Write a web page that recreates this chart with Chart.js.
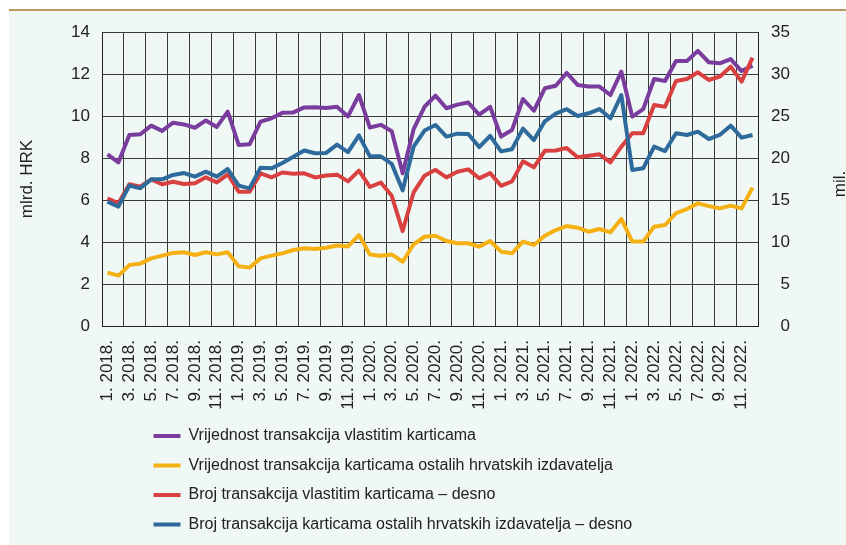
<!DOCTYPE html>
<html><head><meta charset="utf-8">
<script src="https://cdn.jsdelivr.net/npm/chart.js@4.4.0/dist/chart.umd.min.js"></script>
<style>
html,body{margin:0;padding:0;background:#fff;}
#bg{position:absolute;left:9px;top:9px;width:837px;height:534px;background:#EFF8F5;border-top:2px solid #B89A60;}
#wrap{position:absolute;left:0;top:0;width:846px;height:545px;}
</style></head><body>
<div id="bg"></div>
<div id="wrap"><canvas id="c"></canvas></div>
<script>
const categories = [
 '1. 2018.','2. 2018.','3. 2018.','4. 2018.','5. 2018.','6. 2018.','7. 2018.','8. 2018.','9. 2018.','10. 2018.','11. 2018.','12. 2018.',
 '1. 2019.','2. 2019.','3. 2019.','4. 2019.','5. 2019.','6. 2019.','7. 2019.','8. 2019.','9. 2019.','10. 2019.','11. 2019.','12. 2019.',
 '1. 2020.','2. 2020.','3. 2020.','4. 2020.','5. 2020.','6. 2020.','7. 2020.','8. 2020.','9. 2020.','10. 2020.','11. 2020.','12. 2020.',
 '1. 2021.','2. 2021.','3. 2021.','4. 2021.','5. 2021.','6. 2021.','7. 2021.','8. 2021.','9. 2021.','10. 2021.','11. 2021.','12. 2021.',
 '1. 2022.','2. 2022.','3. 2022.','4. 2022.','5. 2022.','6. 2022.','7. 2022.','8. 2022.','9. 2022.','10. 2022.','11. 2022.','12. 2022.'
];
// mlrd. HRK (left axis)
const vrijednostVlastitim = [
 8.17,7.79,9.10,9.13,9.54,9.29,9.68,9.60,9.44,9.79,9.48,10.21,
 8.62,8.65,9.73,9.89,10.15,10.17,10.41,10.42,10.38,10.44,9.98,11.00,
 9.45,9.58,9.27,7.27,9.37,10.44,10.97,10.37,10.54,10.64,10.06,10.44,
 9.02,9.33,10.81,10.25,11.32,11.44,12.05,11.48,11.40,11.40,11.00,12.11,
 9.97,10.33,11.76,11.67,12.62,12.62,13.10,12.56,12.51,12.71,12.14,12.40
];
const vrijednostOstalih = [
 2.54,2.40,2.90,2.97,3.22,3.35,3.48,3.51,3.38,3.51,3.41,3.51,
 2.84,2.78,3.22,3.35,3.46,3.62,3.70,3.67,3.73,3.83,3.79,4.33,
 3.41,3.35,3.41,3.06,3.89,4.25,4.30,4.05,3.94,3.94,3.78,4.05,
 3.54,3.46,4.02,3.86,4.30,4.57,4.76,4.68,4.49,4.62,4.46,5.10,
 4.02,4.02,4.73,4.81,5.37,5.57,5.84,5.71,5.60,5.73,5.60,6.59
];
// mil. (right axis)
const brojVlastitim = [
 15.20,14.60,16.87,16.59,17.46,16.87,17.18,16.90,16.98,17.70,17.10,18.06,
 15.99,15.99,18.17,17.70,18.27,18.12,18.17,17.68,17.92,18.02,17.22,18.49,
 16.55,17.08,15.50,11.30,15.90,17.90,18.60,17.68,18.37,18.65,17.58,18.20,
 16.69,17.22,19.60,18.89,20.85,20.90,21.20,20.10,20.28,20.44,19.48,21.35,
 22.94,22.94,26.31,26.11,29.17,29.40,30.20,29.29,29.68,30.87,29.09,31.94
];
const brojOstalih = [
 14.80,14.21,16.71,16.39,17.46,17.46,17.98,18.21,17.78,18.37,17.78,18.69,
 16.71,16.39,18.85,18.77,19.40,20.16,20.89,20.56,20.60,21.60,20.70,22.70,
 20.20,20.20,19.30,16.15,21.35,23.27,23.93,22.54,22.90,22.86,21.30,22.64,
 20.79,21.05,23.50,22.14,24.37,25.28,25.81,25.00,25.32,25.83,24.72,27.50,
 18.57,18.77,21.35,20.83,22.94,22.74,23.13,22.26,22.74,23.85,22.42,22.74
];
const seriesNames = [
 'Vrijednost transakcija vlastitim karticama',
 'Vrijednost transakcija karticama ostalih hrvatskih izdavatelja',
 'Broj transakcija vlastitim karticama – desno',
 'Broj transakcija karticama ostalih hrvatskih izdavatelja – desno'
];
const leftTicks = {min: 0, max: 14, step: 2};
const rightTicks = {min: 0, max: 35, step: 5};
const leftTitle = 'mlrd. HRK';
const rightTitleText = 'mil.';

const colors = ['#7A3D9E', '#F5B014', '#D94141', '#2F6A9C'];
const tickFont = {family: '"Liberation Sans", Arial, sans-serif', size: 17};
const legendFont = {family: '"Liberation Sans", Arial, sans-serif', size: 16};
const textColor = '#222';
const gridColor = '#3a3a3a';

const legendShift = {
  id: 'legendShift',
  afterLayout(chart) {
    const l = chart.legend;
    if (l) { l.left += 38; l.right += 38; }
  }
};
const rightTitle = {
  id: 'rightTitle',
  afterDraw(chart) {
    const s = chart.scales.y1;
    const ctx = chart.ctx;
    ctx.save();
    ctx.font = '17px "Liberation Sans", Arial, sans-serif';
    ctx.fillStyle = textColor;
    ctx.translate(s.right + 55, (s.top + s.bottom) / 2 + 5);
    ctx.rotate(-Math.PI / 2);
    ctx.textAlign = 'center';
    ctx.textBaseline = 'alphabetic';
    ctx.fillText(rightTitleText, 0, 0);
    ctx.restore();
  }
};

function ds(label, data, color, axis, order) {
  return {label, data, borderColor: color, backgroundColor: color, yAxisID: axis, order,
    borderWidth: 4, pointRadius: 0, pointHoverRadius: 0, tension: 0,
    borderJoinStyle: 'round', fill: false};
}

new Chart(document.getElementById('c'), {
  type: 'line',
  data: {
    labels: categories,
    datasets: [
      ds(seriesNames[0], vrijednostVlastitim, colors[0], 'y', 2),
      ds(seriesNames[1], vrijednostOstalih, colors[1], 'y', 3),
      ds(seriesNames[2], brojVlastitim, colors[2], 'y1', 1),
      ds(seriesNames[3], brojOstalih, colors[3], 'y1', 0)
    ]
  },
  options: {
    responsive: true,
    maintainAspectRatio: false,
    animation: false,
    devicePixelRatio: 1,
    layout: {padding: {left: 0, right: 56, top: 32, bottom: 2.5}},
    plugins: {
      tooltip: {enabled: false},
      legend: {
        position: 'bottom',
        align: 'start',
        fullSize: false,
        labels: {
          usePointStyle: true,
          pointStyle: 'line',
          pointStyleWidth: 27,
          padding: 13.5,
          font: legendFont,
          color: textColor,
          sort: (a, b) => a.datasetIndex - b.datasetIndex
        }
      }
    },
    scales: {
      x: {
        type: 'category',
        offset: true,
        grid: {
          offset: true,
          drawTicks: false,
          color: (c) => (c.index !== undefined && c.index % 2 === 0) ? gridColor : 'rgba(0,0,0,0)',
          lineWidth: 1
        },
        border: {display: true, color: '#222', width: 1},
        ticks: {
          autoSkip: false,
          minRotation: 90,
          maxRotation: 90,
          padding: 14,
          font: tickFont,
          color: textColor,
          callback: function(v, i) { return i % 2 === 0 ? this.getLabelForValue(v) : ''; }
        },
        afterFit: (s) => { s.height = 88.5; }
      },
      y: {
        position: 'left',
        min: leftTicks.min, max: leftTicks.max,
        grid: {drawTicks: false, color: gridColor, lineWidth: 1},
        border: {display: true, color: '#222', width: 1},
        ticks: {stepSize: leftTicks.step, padding: 12, font: tickFont, color: textColor},
        title: {display: true, text: leftTitle, font: tickFont, color: textColor, padding: {top: 17, bottom: 0}},
        afterFit: (s) => { s.width = 102; }
      },
      y1: {
        position: 'right',
        min: rightTicks.min, max: rightTicks.max,
        grid: {display: false, drawTicks: false},
        border: {display: true, color: '#222', width: 1},
        ticks: {stepSize: rightTicks.step, padding: 10, crossAlign: 'far', font: tickFont, color: textColor},
        afterFit: (s) => { s.width = 32; }
      }
    }
  },
  plugins: [legendShift, rightTitle]
});
</script>
</body></html>
